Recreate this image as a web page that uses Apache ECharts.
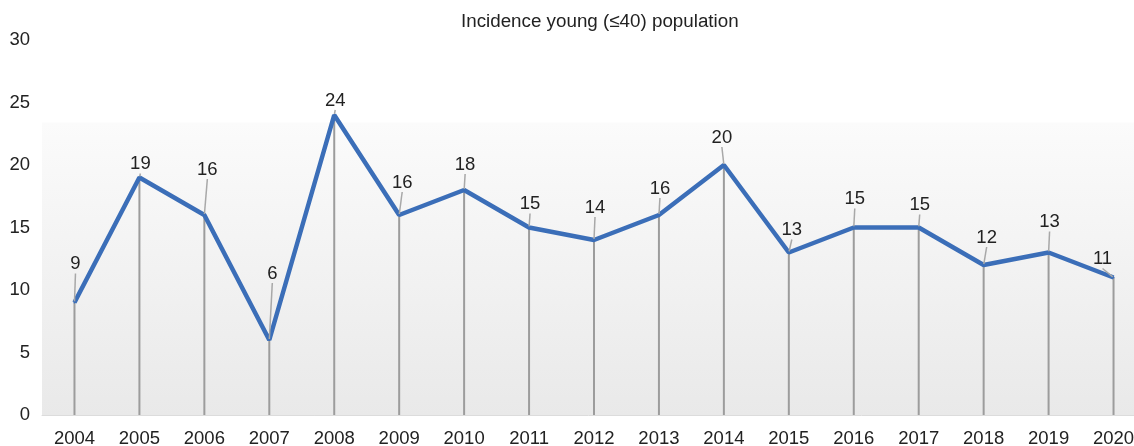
<!DOCTYPE html>
<html>
<head>
<meta charset="utf-8">
<script src="https://cdn.jsdelivr.net/npm/echarts@6/dist/echarts.min.js"></script>
<style>html,body{margin:0;padding:0;background:#fff}#c{width:1134px;height:446px}</style>
</head>
<body>
<div id="c"></div>
<script>
const title = 'Incidence young (≤40) population';
const years = ['2004','2005','2006','2007','2008','2009','2010','2011','2012','2013','2014','2015','2016','2017','2018','2019','2020'];
const values = [9,19,16,6,24,16,18,15,14,16,20,13,15,15,12,13,11];
const yTicks = [0,5,10,15,20,25,30];
// label nudges (pixels), styling only
const labelLift = [27,2,34,55,3,21,14,12,21,15,16,11,17,11,16,19,7];
const labelShift = [1,1,3,3,1,3,1,1,1,1,-2,3,1,1,3,1,-11];

const chart = echarts.init(document.getElementById('c'));
const font = 'Liberation Sans, Arial, Helvetica, sans-serif';
chart.setOption({
  animation: false,
  title: { text: title, left: 456, top: 7, textStyle: { fontFamily: font, fontSize: 18.8, fontWeight: 'normal', color: '#222' } },
  grid: { left: 42, width: 1104, top: 40, bottom: 31, outerBoundsMode: 'none', containLabel: false },
  xAxis: {
    type: 'category', data: years,
    axisLine: { lineStyle: { color: '#dcdcdc', width: 1 } },
    axisTick: { show: false },
    axisLabel: { fontFamily: font, fontSize: 18.5, color: '#222', margin: 14 }
  },
  yAxis: {
    type: 'value', min: yTicks[0], max: yTicks[yTicks.length-1], interval: 5,
    splitLine: { show: false }, axisLine: { show: false }, axisTick: { show: false },
    axisLabel: { fontFamily: font, fontSize: 18.5, color: '#222', margin: 12 }
  },
  series: [
    {
      type: 'bar', data: values, barWidth: 2, silent: true,
      itemStyle: { color: '#9c9c9c' }, z: 2,
      markArea: {
        silent: true,
        itemStyle: { color: new echarts.graphic.LinearGradient(0,0,0,1,[{offset:0,color:'#fbfbfb'},{offset:1,color:'#e9e9e9'}]) },
        data: [[{ yAxis: 23.4 }, { yAxis: 0 }]]
      }
    },
    {
      type: 'line', z: 3,
      data: values,
      symbol: 'circle', symbolSize: 2, showSymbol: true,
      itemStyle: { color: '#3b6eb8' },
      lineStyle: { color: '#3b6eb8', width: 4.5 },
      label: { show: true, position: 'top', distance: 1, fontFamily: font, fontSize: 18.5, color: '#222' },
      labelLayout: (p) => ({ dx: labelShift[p.dataIndex], dy: -labelLift[p.dataIndex] }),
      labelLine: { show: true, lineStyle: { color: '#a8a8a8', width: 1.5 } }
    }
  ]
});
</script>
</body>
</html>
